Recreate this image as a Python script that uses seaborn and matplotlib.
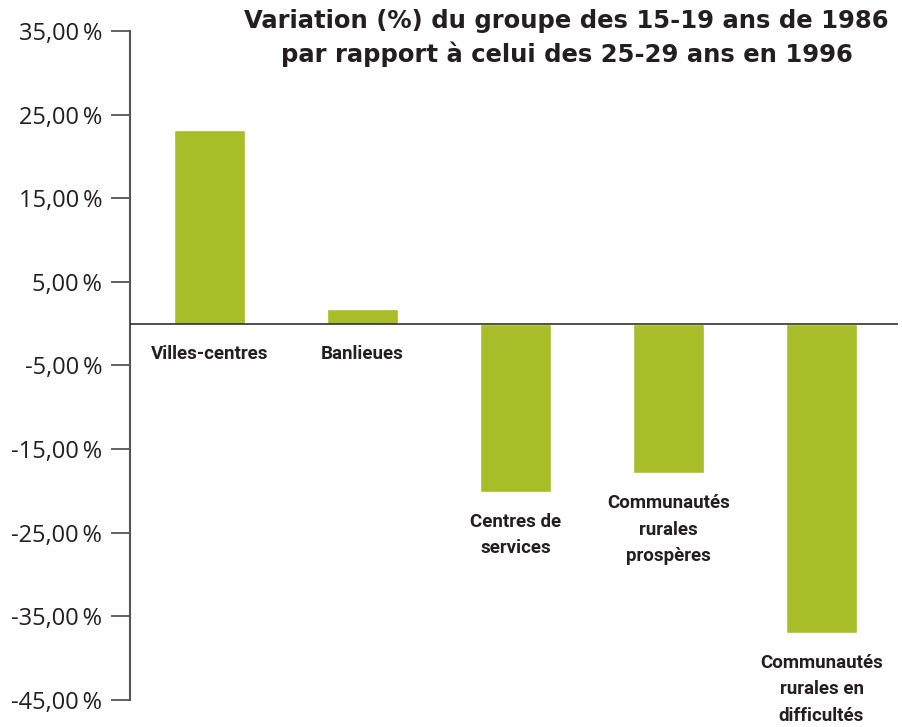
import pandas as pd
import matplotlib
matplotlib.use("Agg")
import matplotlib.pyplot as plt
import seaborn as sns

# Data
categories = ["Villes-centres", "Banlieues", "Centres de\nservices",
              "Communautés\nrurales\nprospères", "Communautés\nrurales en\ndifficultés"]
values = [23.1, 1.7, -20.1, -17.9, -37.0]
yticks = [35, 25, 15, 5, -5, -15, -25, -35, -45]
title = "Variation (%) du groupe des 15-19 ans de 1986\npar rapport à celui des 25-29 ans en 1996"

df = pd.DataFrame({"cat": categories, "val": values})

sns.set_style("white")
plt.rcParams['font.family'] = ['Open Sans', 'DejaVu Sans']

fig = plt.figure(figsize=(9.02, 7.27), dpi=100)
ax = fig.add_axes([0.1441, 0.0371, 0.8515, 0.9203])

sns.barplot(data=df, x="cat", y="val", color="#a9bd28", saturation=1,
            width=0.46, ax=ax)

ax.set_ylim(-45, 35)
ax.set_xlim(-0.52, 4.5)
ax.set_yticks(yticks)
ax.set_yticklabels([f"{t},00\u2009%" for t in yticks], fontsize=17, color="#231f20")
ax.set_xticks([])
ax.set_xlabel("")
ax.set_ylabel("")

for s in ["top", "right", "bottom"]:
    ax.spines[s].set_visible(False)
ax.spines["left"].set_color("#555555")
ax.spines["left"].set_linewidth(1.5)
ax.tick_params(axis="y", direction="out", length=14, width=1.3,
               color="#555555", pad=6, left=True)

ax.axhline(0, color="#231f20", lw=1.1, zorder=3)

# Category labels under each bar
for i, (c, v) in enumerate(zip(categories, values)):
    ax.annotate(c, xy=(i, min(v, 0)), xytext=(0, -15), textcoords="offset points",
                ha="center", va="top", fontsize=13.5, fontweight="bold",
                family=["Roboto", "DejaVu Sans"], fontstretch="condensed",
                color="#231f20", linespacing=1.6)

fig.text(0.628, 0.987, title, ha="center", va="top", fontsize=17.5,
         fontweight="bold", family=["DejaVu Sans"], color="#231f20",
         linespacing=1.4)

fig.savefig("out.png", dpi=100)
